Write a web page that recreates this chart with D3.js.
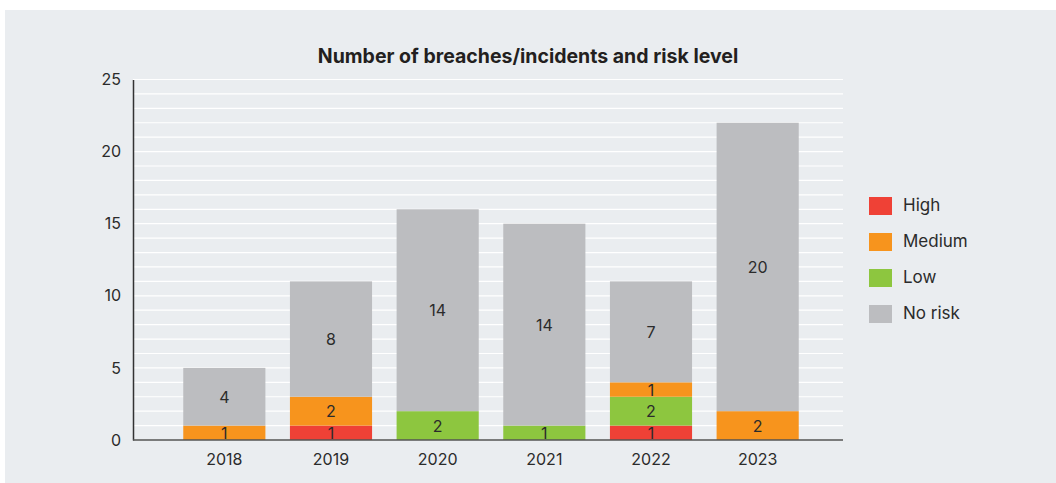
<!DOCTYPE html>
<html>
<head>
<meta charset="utf-8">
<script src="https://cdn.jsdelivr.net/npm/d3@7"></script>
<style>
  body { margin: 0; background: #fff; }
  text { font-family: "Inter", "Lato", sans-serif; }
</style>
</head>
<body>
<div id="chart"></div>
<script>
// data
let years = ["2018", "2019", "2020", "2021", "2022", "2023"]
let high = [0, 1, 0, 0, 1, 0]
let medium = [1, 2, 0, 0, 1, 2]
let low = [0, 0, 2, 1, 2, 0]
let noRisk = [4, 8, 14, 14, 7, 20]
let seriesNames = ["High", "Medium", "Low", "No risk"]
let seriesColors = ["#ef4136", "#f7941d", "#8dc63f", "#bcbdc0"]
// bars stack low -> medium after high, as in the picture
let stackOrder = ["High", "Low", "Medium", "No risk"]
let yTicks = [0, 5, 10, 15, 20, 25]

let W = 1056, H = 483

let svg = d3.select("#chart")
  .append("svg")
    .attr("width", W)
    .attr("height", H)

// panel background
svg.append("rect")
  .attr("x", 5).attr("y", 10)
  .attr("width", W - 5).attr("height", H - 10)
  .style("fill", "#eaedf0")

let plotLeft = 133, plotRight = 843, plotTop = 79.5, plotBottom = 440

// table for stacking
let table = years.map((yr, i) => ({
  year: yr,
  "High": high[i],
  "Medium": medium[i],
  "Low": low[i],
  "No risk": noRisk[i]
}))
let stacked = d3.stack().keys(stackOrder)(table)

var x = d3.scaleBand()
  .domain(years)
  .range([171, 811])
  .paddingInner(0.23)
  .paddingOuter(0.115)

var y = d3.scaleLinear()
  .domain([0, 25])
  .range([plotBottom, plotTop])

// gridlines every unit
svg.append("g")
  .selectAll("line")
  .data(d3.range(1, 26))
  .enter()
  .append("line")
    .attr("x1", plotLeft).attr("x2", plotRight)
    .attr("y1", d => y(d)).attr("y2", d => y(d))
    .style("stroke", "#ffffff")
    .style("stroke-width", 1.2)

// bars
let color = d3.scaleOrdinal().domain(seriesNames).range(seriesColors)
let layers = svg.append("g")
  .selectAll("g")
  .data(stacked)
  .enter()
  .append("g")
    .style("fill", d => color(d.key))

layers.selectAll("rect")
  .data(d => d.filter(s => s[1] - s[0] > 0))
  .enter()
  .append("rect")
    .attr("x", d => x(d.data.year))
    .attr("y", d => y(d[1]))
    .attr("width", x.bandwidth())
    .attr("height", d => y(d[0]) - y(d[1]))

// value labels
layers.selectAll("text")
  .data(d => d.filter(s => s[1] - s[0] > 0))
  .enter()
  .append("text")
    .attr("x", d => x(d.data.year) + x.bandwidth() / 2)
    .attr("y", d => y((d[0] + d[1]) / 2))
    .attr("dy", "0.38em")
    .attr("text-anchor", "middle")
    .style("fill", "#2b2b2b")
    .style("font-size", "16px")
    .text(d => d[1] - d[0])

// axes
let yAxis = svg.append("g")
  .attr("transform", "translate(" + plotLeft + ",0)")
  .call(d3.axisLeft(y).tickValues(yTicks).tickSize(0).tickPadding(12))
yAxis.select(".domain").style("stroke", "#333").style("stroke-width", 1.5)
yAxis.selectAll("text")
  .style("font-size", "16px")
  .style("fill", "#2b2b2b")
  .style("font-family", "Inter, Lato, sans-serif")

let xAxis = svg.append("g")
  .attr("transform", "translate(0," + plotBottom + ")")
  .call(d3.axisBottom(x).tickSize(0).tickPadding(14))
xAxis.select(".domain")
  .attr("d", "M" + plotLeft + ",0H" + plotRight)
  .style("stroke", "#555").style("stroke-width", 1.5)
xAxis.selectAll("text")
  .style("font-size", "16px")
  .style("fill", "#2b2b2b")
  .style("font-family", "Inter, Lato, sans-serif")

// title
svg.append("text")
  .attr("x", 528)
  .attr("y", 63)
  .attr("text-anchor", "middle")
  .style("font-size", "19.5px")
  .style("font-weight", "bold")
  .style("fill", "#231f20")
  .text("Number of breaches/incidents and risk level")

// legend
let legend = svg.append("g")
  .selectAll("g")
  .data(seriesNames)
  .enter()
  .append("g")
    .attr("transform", (d, i) => "translate(869," + (197 + i * 36) + ")")

legend.append("rect")
  .attr("width", 23)
  .attr("height", 18)
  .style("fill", d => color(d))

legend.append("text")
  .attr("x", 34)
  .attr("y", 8)
  .attr("dy", "0.36em")
  .style("font-size", "17px")
  .style("fill", "#2b2b2b")
  .text(d => d)
</script>
</body>
</html>
